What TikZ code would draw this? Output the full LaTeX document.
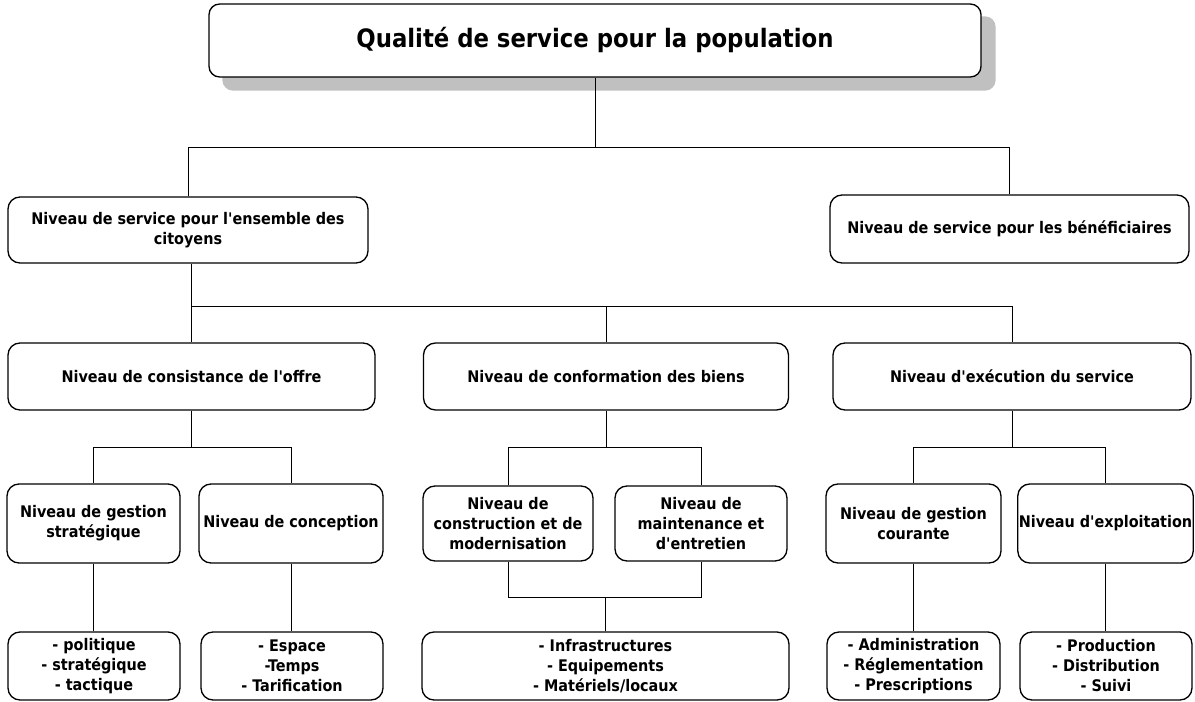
\documentclass[tikz,border=0pt]{standalone}
\usepackage{fontspec}
\setmainfont{DejaVu Sans Condensed}
\usetikzlibrary{backgrounds}

\tikzset{every picture/.style={line width=0.75pt}}
\tikzset{
  box/.style={draw, line width=1pt, rounded corners=9pt, align=center, inner sep=0.75pt,
    font=\bfseries\fontsize{12}{15}\selectfont},
  titlebox/.style={box, fill=white, rounded corners=8pt, font=\bfseries\fontsize{19}{22}\selectfont},
  shadowfill/.style={fill={rgb, 255:red, 192; green, 192; blue, 192 }, rounded corners=8pt},
}
\newcommand{\ap}{\textquotesingle}

\begin{document}
\begin{tikzpicture}[x=0.75pt,y=0.75pt,yscale=-1,xscale=1]
\useasboundingbox (0,0) rectangle (1195,702);

% Title
\node [titlebox, minimum width=579pt, minimum height=54.75pt] (qualite) at (595,40.5) {Qualité de service pour la population};
\begin{pgfonlayer}{background}
\fill [shadowfill] ([shift={(14,13)}]qualite.south west) rectangle ([shift={(14,13)}]qualite.north east);
\end{pgfonlayer}

% Level 1
\node [box, minimum width=270pt, minimum height=49.5pt] (citoyens) at (188,230) {Niveau de service pour l\ap ensemble des\\citoyens};
\node [box, minimum width=269.25pt, minimum height=51pt] (beneficiaires) at (1009.5,229) {Niveau de service pour les bénéficiaires};

% Level 2
\node [box, minimum width=275.25pt, minimum height=50.25pt] (consistance) at (191.5,376.5) {Niveau de consistance de l\ap offre};
\node [box, minimum width=273.75pt, minimum height=50.25pt] (conformation) at (606,376.5) {Niveau de conformation des biens};
\node [box, minimum width=268.5pt, minimum height=50.25pt] (execution) at (1012,376.5) {Niveau d\ap exécution du service};

% Level 3
\node [box, minimum width=129.75pt, minimum height=59.25pt] (strategique) at (93.5,523.5) {Niveau de gestion\\stratégique};
\node [box, minimum width=138pt, minimum height=59.25pt] (conception) at (291,523.5) {Niveau de conception};
\node [box, minimum width=127.5pt, minimum height=56.25pt] (construction) at (508,523.5) {Niveau de\\construction et de\\modernisation};
\node [box, minimum width=129pt, minimum height=56.25pt] (maintenance) at (701,523.5) {Niveau de\\maintenance et\\d\ap entretien};
\node [box, minimum width=131.25pt, minimum height=59.25pt] (courante) at (913.5,523.5) {Niveau de gestion\\courante};
\node [box, minimum width=131.25pt, minimum height=59.25pt] (exploitation) at (1105.5,523.5) {Niveau d\ap exploitation};

% Level 4
\node [box, minimum width=129pt, minimum height=51pt] (politique) at (94,666) {- politique\\- stratégique\\- tactique};
\node [box, minimum width=136.5pt, minimum height=51pt] (espace) at (292,666) {- Espace\\-Temps\\- Tarification};
\node [box, minimum width=275.25pt, minimum height=51pt] (infra) at (605.5,666) {- Infrastructures\\- Equipements\\- Matériels/locaux};
\node [box, minimum width=129.75pt, minimum height=51pt] (admin) at (913.5,666) {- Administration\\- Réglementation\\- Prescriptions};
\node [box, minimum width=129pt, minimum height=51pt] (production) at (1106,666) {- Production\\- Distribution\\- Suivi};

% Bus rows
\coordinate (bus1) at (0,147);
\coordinate (bus2) at (0,306);
\coordinate (bus3) at (0,447);
\coordinate (bus4) at (0,597);

% Connectors
\draw (qualite.south) -- (qualite.south |- bus1);
\draw (citoyens.north) -- (citoyens.north |- bus1) -- (beneficiaires.north |- bus1) -- (beneficiaires.north);

\draw (consistance.north |- citoyens.south) -- (consistance.north);
\draw (consistance.north |- bus2) -- (execution.north |- bus2) -- (execution.north);
\draw (conformation.north) -- (conformation.north |- bus2);

\draw (consistance.south) -- (consistance.south |- bus3);
\draw (strategique.north) -- (strategique.north |- bus3) -- (conception.north |- bus3) -- (conception.north);
\draw (conformation.south) -- (conformation.south |- bus3);
\draw (construction.north) -- (construction.north |- bus3) -- (maintenance.north |- bus3) -- (maintenance.north);
\draw (execution.south) -- (execution.south |- bus3);
\draw (courante.north) -- (courante.north |- bus3) -- (exploitation.north |- bus3) -- (exploitation.north);

\draw (strategique.south) -- (strategique.south |- politique.north);
\draw (conception.south) -- (conception.south |- espace.north);
\draw (construction.south) -- (construction.south |- bus4) -- (maintenance.south |- bus4) -- (maintenance.south);
\draw (infra.north) -- (infra.north |- bus4);
\draw (courante.south) -- (courante.south |- admin.north);
\draw (exploitation.south) -- (exploitation.south |- production.north);

\end{tikzpicture}
\end{document}
